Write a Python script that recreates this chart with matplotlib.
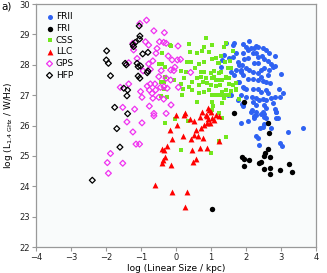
import matplotlib
matplotlib.use("Agg")
import matplotlib.pyplot as plt

# FRII (blue filled circles): log size, log power
frii_x = [1.91, 2.10, 2.00, 2.05, 2.15, 2.24, 2.34, 2.48, 2.58, 2.67, 2.82, 1.92, 1.95, 2.05,
          2.19, 2.29, 2.34, 2.24, 2.34, 2.53, 2.62, 2.72, 1.89, 2.00, 1.86, 2.10, 2.19, 2.34,
          2.43, 2.53, 2.67, 2.77, 2.84, 2.62, 3.01, 2.05, 2.19, 2.34, 2.43, 2.48, 2.58, 1.91,
          2.00, 2.19, 2.34, 2.43, 2.58, 2.62, 2.72, 2.82, 2.94, 2.98, 3.06, 1.86, 2.00, 2.17,
          2.29, 2.38, 2.48, 2.58, 1.91, 2.19, 2.29, 2.53, 2.58, 2.77, 2.82, 2.17, 2.29, 2.48,
          2.53, 2.86, 1.43, 1.67, 1.64, 1.72, 1.62, 1.52, 1.76, 1.81, 1.72, 1.86, 1.91, 1.76,
          1.57, 1.95, 1.88, 1.91, 2.15, 2.29, 2.24, 2.53, 2.58, 2.62, 2.86, 2.91, 1.86, 2.39,
          2.48, 3.20, 3.63, 2.29, 2.34, 2.37, 2.05, 2.24, 2.43, 2.86, 2.53, 2.72, 2.98, 3.04,
          1.38, 1.33, 1.28, 1.57, 1.67, 1.79, 1.50, 1.76, 2.30, 2.45, 2.70]
frii_y = [28.70, 28.79, 28.59, 28.48, 28.54, 28.57, 28.59, 28.57, 28.48, 28.38, 28.29, 28.38,
          28.18, 28.21, 28.38, 28.40, 28.27, 28.07, 28.05, 28.18, 28.13, 28.02, 27.99, 27.88,
          27.83, 27.83, 27.77, 27.72, 27.83, 27.88, 27.83, 27.94, 27.96, 27.66, 27.70, 27.55,
          27.55, 27.50, 27.61, 27.48, 27.44, 27.28, 27.22, 27.19, 27.22, 27.11, 27.17, 27.06,
          26.90, 26.93, 27.22, 26.93, 27.06, 27.01, 26.93, 26.93, 26.90, 26.84, 26.86, 26.84,
          26.68, 26.79, 26.68, 26.68, 26.57, 26.73, 26.53, 26.51, 26.46, 26.46, 26.38, 26.46,
          28.73, 28.71, 28.65, 28.38, 28.27, 28.21, 28.10, 27.99, 27.83, 27.77, 27.66, 27.44,
          27.01, 27.23, 26.71, 26.64, 26.46, 26.35, 26.24, 26.29, 26.24, 26.08, 26.46, 26.24,
          26.08, 25.91, 25.96, 25.80, 25.91, 25.66, 25.58, 25.35, 26.15, 26.32, 26.39, 26.25,
          26.04, 25.92, 25.41, 25.33, 28.32, 28.16, 27.92, 27.77, 27.66, 27.44, 27.00, 26.84,
          28.62, 28.30, 27.40]

# FRI (black filled circles)
fri_x = [2.62, 2.65, 2.62, 2.56, 2.51, 2.70, 1.89, 1.95, 2.10, 1.95, 2.36, 2.43, 2.51, 2.69,
         2.69, 2.98, 3.22, 3.31, 1.95, 1.65, 1.03]
fri_y = [26.09, 25.77, 25.22, 25.11, 24.99, 24.96, 24.97, 24.89, 24.86, 24.67, 24.77, 24.80,
         24.58, 24.61, 24.39, 24.54, 24.75, 24.47, 26.79, 26.42, 23.25]

# CSS (green squares)
css_x = [0.85, 0.37, 1.04, 0.80, -0.15, 1.43, 0.74, 0.61, 0.95, 0.39, 1.28, 1.55, 0.32, 0.42,
         1.04, 1.19, 0.80, 1.41, -0.39, -0.32, 0.66, 1.49, 1.57, 0.30, 0.71, 0.80, 1.09, 0.14,
         1.00, 1.24, 0.71, 0.85, 0.61, 0.23, 1.04, 1.14, 1.33, 1.43, -0.44, -0.34, -0.06, 0.47,
         0.76, 0.90, 0.66, 1.00, 1.14, 1.26, 1.52, 1.72, 0.14, 0.37, -0.34, 0.47, 0.80, 0.95,
         1.43, 1.33, 1.57, 1.72, 0.66, 1.04, 1.19, 1.30, 0.16, -0.44, 1.52, 1.04, 0.61, 1.33,
         1.07, 1.81, 1.38, 1.14, 1.24, 1.52, 1.28, 1.09, 1.43, 1.52, 1.24, 1.62, 1.72, 1.38,
         1.47, 1.09, 1.43, 1.00, -0.30, -0.04, 0.35, 1.33, 1.22, 0.14, 1.22, 1.04, -0.39, -0.49,
         -0.30, -0.25, -0.18, 0.55, 0.20, 1.62, 1.36]
css_y = [28.87, 28.67, 28.65, 28.60, 28.62, 28.71, 28.46, 28.38, 28.43, 28.41, 28.29, 28.13,
         28.10, 28.10, 28.18, 28.07, 28.10, 28.10, 28.03, 27.94, 28.03, 27.88, 27.88, 27.77,
         27.77, 27.77, 27.81, 27.80, 27.72, 27.72, 27.61, 27.56, 27.56, 27.56, 27.56, 27.50,
         27.50, 27.56, 27.44, 27.44, 27.50, 27.44, 27.44, 27.39, 27.34, 27.34, 27.30, 27.34,
         27.37, 27.39, 27.37, 27.28, 27.19, 27.17, 27.12, 27.17, 27.17, 27.12, 27.15, 27.17,
         27.06, 27.01, 27.01, 27.01, 27.01, 26.97, 27.01, 26.79, 26.79, 26.73, 26.66, 26.87,
         28.60, 28.21, 28.05, 27.88, 27.77, 27.61, 27.61, 27.56, 27.50, 27.35, 27.19, 27.01,
         27.01, 27.01, 25.64, 25.09, 26.10, 26.21, 26.14, 26.25, 26.42, 25.21, 25.48, 26.51,
         28.38, 28.03, 27.61, 26.95, 28.64, 27.90, 27.20, 28.45, 26.90]

# LLC (red triangles)
llc_x = [0.01, 0.23, 0.39, 0.52, 0.68, 0.85, 0.93, 1.04, 0.88, 0.80, 0.71, 0.57, 0.64, 0.52,
         0.78, 1.24, 0.04, -0.17, 0.20, 0.42, -0.11, 1.24, -0.41, -0.34, -0.25, 0.47, 0.68,
         0.90, -0.30, -0.39, -0.37, 0.57, 0.50, -0.14, -0.11, 0.31, 0.25, -0.60, 0.93, 1.00,
         0.95, 1.14, 0.90, 0.26, 0.75, 1.08, 0.96]
llc_y = [26.36, 26.36, 26.23, 26.14, 26.28, 26.36, 26.23, 26.25, 26.10, 26.01, 25.92, 25.84,
         25.66, 25.70, 25.59, 26.32, 26.03, 25.84, 25.65, 25.57, 25.55, 25.48, 25.24, 25.19,
         25.32, 25.19, 25.26, 25.26, 24.97, 24.78, 24.86, 24.91, 24.80, 24.69, 23.82, 23.82,
         23.32, 24.05, 26.57, 26.45, 26.51, 26.35, 26.30, 26.40, 26.45, 26.18, 26.10]

# GPS (magenta open diamonds)
gps_x = [-0.84, -1.03, -0.63, -0.87, -0.78, -1.23, -1.21, -0.54, -0.57, -1.11, -0.66, -0.78,
         -1.35, -0.94, -0.73, -0.49, -0.73, -0.60, -0.82, -0.76, -0.58, -0.68, -0.49, -1.59,
         -1.35, -1.01, -0.97, -0.66, -1.52, -0.76, -1.18, -0.63, -0.63, -1.40, -0.97, -1.23,
         -1.14, -1.04, -1.87, -1.96, -1.52, -1.93, -0.33, -0.47, -0.35, -0.28, 0.06, -0.22,
         -0.11, 0.04, 0.13, -0.03, -0.06, -0.15, -0.42, 0.42, -0.28, -0.15, -0.34, -0.25,
         -0.44, 0.07, -0.35, -0.14, -0.28]
gps_y = [29.47, 29.36, 29.12, 28.76, 28.65, 28.71, 28.49, 28.54, 28.38, 28.21, 28.13, 28.03,
         28.07, 27.80, 27.85, 27.61, 27.37, 27.37, 27.30, 27.17, 27.17, 27.06, 26.93, 27.26,
         27.37, 27.12, 26.93, 26.90, 26.60, 26.64, 26.54, 26.40, 26.32, 26.12, 26.09, 25.79,
         25.39, 25.39, 25.08, 24.78, 24.76, 24.43, 29.06, 28.76, 28.74, 28.71, 28.62, 28.29,
         28.16, 28.16, 28.18, 27.92, 27.81, 27.83, 27.81, 27.75, 27.56, 27.50, 27.28, 27.23,
         27.26, 27.26, 26.87, 26.68, 26.40]

# HFP (black open diamonds)
hfp_x = [-1.05, -1.03, -1.04, -1.16, -1.23, -1.21, -1.98, -0.80, -0.95, -1.99, -1.93, -1.45,
         -1.42, -1.11, -1.08, -1.01, -0.80, -0.82, -1.87, -1.08, -1.03, -1.38, -1.49, -1.40,
         -1.75, -1.38, -1.69, -1.60, -2.39]
hfp_y = [29.28, 28.95, 28.85, 28.74, 28.67, 28.60, 28.46, 28.41, 28.36, 28.16, 28.05, 28.05,
         28.00, 28.05, 27.94, 27.96, 27.80, 27.74, 27.64, 27.63, 27.56, 27.17, 27.23, 26.98,
         26.60, 26.39, 25.90, 25.29, 24.20]

grey = '#999999'

fig = plt.figure(figsize=(3.27, 2.73), dpi=100)
ax = fig.add_axes([0.110, 0.095, 0.856, 0.890])
ax.set_facecolor('#f9fbfb')

ax.scatter(frii_x, frii_y, s=13, marker='o', color='#2f62f2', linewidths=0, label='FRII')
ax.scatter(fri_x, fri_y, s=15, marker='o', color='black', linewidths=0, label='FRI')
ax.scatter(css_x, css_y, s=12, marker='s', color='#72e81e', linewidths=0, label='CSS')
ax.scatter(llc_x, llc_y, s=18, marker='^', color='#ff0000', linewidths=0, label='LLC')
ax.scatter(gps_x, gps_y, s=9, marker='D', facecolors='none', edgecolors='#f032f0',
           linewidths=0.9, label='GPS')
ax.scatter(hfp_x, hfp_y, s=9, marker='D', facecolors='none', edgecolors='black',
           linewidths=0.9, label='HFP')

ax.set_xlim(-4, 4)
ax.set_ylim(22, 30)
ax.set_xticks(range(-4, 5))
ax.set_yticks(range(22, 31))

# grey frame, ticks outside on left and bottom only
for sp in ax.spines.values():
    sp.set_color(grey)
    sp.set_linewidth(0.9)
ax.tick_params(direction='out', length=3, width=0.8, color=grey, labelsize=6,
               labelcolor='#222222', pad=1.5)

ax.set_xlabel('log (Linear Size / kpc)', fontsize=6.5, labelpad=1)
ax.set_ylabel(r'log (L$_{\mathregular{1.4\ GHz}}$ / W/Hz)', fontsize=6.5, labelpad=3)

ax.legend(loc='upper left', frameon=False, fontsize=6.5, handletextpad=0.1,
          labelspacing=0.3, borderaxespad=0.5, handlelength=1.2, markerscale=1.0)

fig.text(0.003, 0.975, 'a)', fontsize=7.5, va='center')

fig.savefig('out.png', dpi=100)
